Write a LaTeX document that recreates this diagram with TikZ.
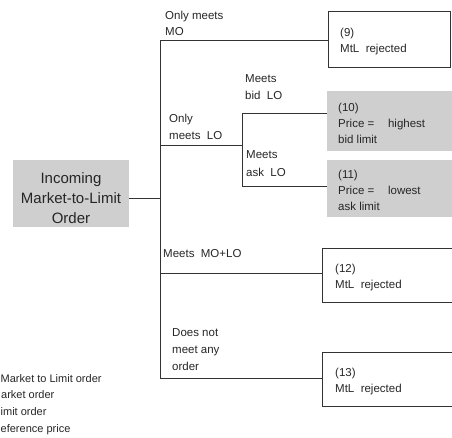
\documentclass[tikz,border=0pt]{standalone}
\usepackage{fontspec}
\setmainfont{Liberation Sans}
\begin{document}
\begin{tikzpicture}[x=1pt,y=-1pt,
  lbl/.style={anchor=base west,inner sep=0pt,font=\fontsize{11.5}{13}\selectfont,text=black!85},
  leg/.style={anchor=base west,inner sep=0pt,font=\fontsize{11}{13}\selectfont,text=black!85},
  conn/.style={draw=black!80,line width=0.9pt},
  outbox/.style={draw=black!80,line width=0.9pt},
  graybox/.style={fill=black!19,draw=none}]
\useasboundingbox (0,0) rectangle (452,437);
\clip (0,0) rectangle (452,437);
% boxes
\node[graybox,minimum width=116pt,minimum height=67pt,anchor=north west,inner sep=0pt] (inc) at (13,160) {};
\node[anchor=center,align=center,font=\fontsize{15}{20}\selectfont,text=black!85] (inct) at (71,198) {Incoming\\Market-to-Limit\\Order};
\draw[outbox] (328,11) rectangle (450,67);
\coordinate (b9) at (328,40);
\fill[black!19] (327,91) rectangle (455,151);
\coordinate (b10) at (327,113);
\fill[black!19] (327,160) rectangle (455,217);
\coordinate (b11) at (327,186);
\draw[outbox] (458,248) -- (322,248) -- (322,302) -- (458,302);
\coordinate (b12) at (322,273);
\draw[outbox] (458,352) -- (322,352) -- (322,406) -- (458,406);
\coordinate (b13) at (322,378);
% tree
\coordinate (j0) at (160,198);
\coordinate (vt) at (160,40);
\coordinate (vb) at (160,378);
\coordinate (jlo) at (160,145);
\coordinate (jmo) at (160,273);
\coordinate (s0) at (242,145);
\coordinate (st) at (242,113);
\coordinate (sb) at (242,186);
\draw[conn] (inc.east |- j0) -- (j0);
\draw[conn] (vt) -- (vb);
\draw[conn] (vt) -- (b9);
\draw[conn] (jlo) -- (s0);
\draw[conn] (st) -- (sb);
\draw[conn] (st) -- (b10);
\draw[conn] (sb) -- (b11);
\draw[conn] (jmo) -- (b12);
\draw[conn] (vb) -- (b13);
% branch labels
\node[lbl] (l1) at (165,19) {Only meets};
\node[lbl] (l1b) at (165,35) {MO};
\node[lbl] (l2) at (169,122) {Only};
\node[lbl] (l2b) at (169,139) {meets\ \ LO};
\node[lbl] (l3) at (245,82) {Meets};
\node[lbl] (l3b) at (245,99) {bid\ \ LO};
\node[lbl] (l4) at (246,158) {Meets};
\node[lbl] (l4b) at (246,176) {ask\ \ LO};
\node[lbl] (l5) at (163,257) {Meets\ \ MO+LO};
\node[lbl] (l6) at (172,336) {Does not};
\node[lbl] (l6b) at (172,353) {meet any};
\node[lbl] (l6c) at (172,370) {order};
% box texts
\node[lbl] (t9) at (340,36) {(9)};
\node[lbl] (t9b) at (340,52) {MtL\ \ rejected};
\node[lbl] (t10) at (338,111) {(10)};
\node[lbl] (t10b) at (338,127) {Price =\hspace{1.2em}highest};
\node[lbl] (t10c) at (338,143) {bid limit};
\node[lbl] (t11) at (338,178) {(11)};
\node[lbl] (t11b) at (338,194) {Price =\hspace{1.2em}lowest};
\node[lbl] (t11c) at (338,210) {ask limit};
\node[lbl] (t12) at (335,272) {(12)};
\node[lbl] (t12b) at (335,288) {MtL\ \ rejected};
\node[lbl] (t13) at (335,376) {(13)};
\node[lbl] (t13b) at (335,392) {MtL\ \ rejected};
% legend (as printed, cut at the left edge)
\node[leg] (g1) at (0.5,382) {Market to Limit order};
\node[leg] (g2) at (1,398) {arket order};
\node[leg] (g3) at (0.5,415) {imit order};
\node[leg] (g4) at (0.5,432) {eference price};
\end{tikzpicture}
\end{document}
